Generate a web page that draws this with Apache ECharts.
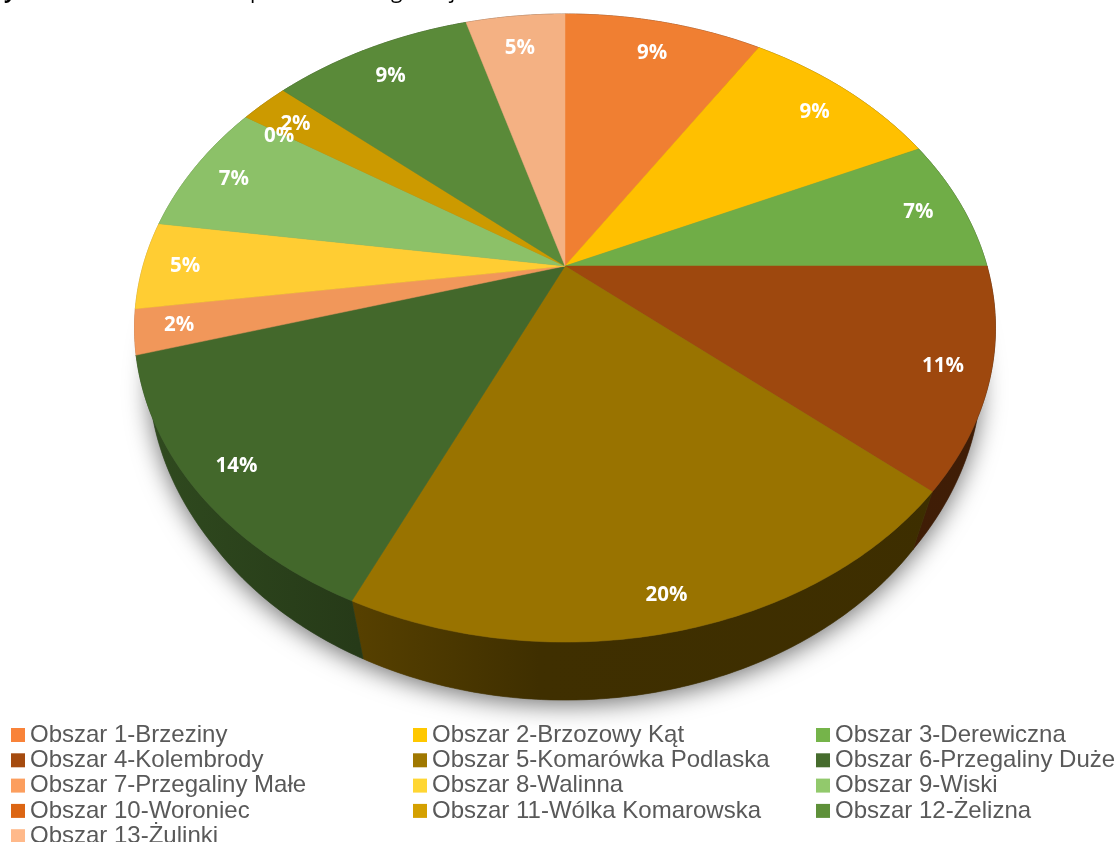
<!DOCTYPE html>
<html><head><meta charset="utf-8">
<style>html,body{margin:0;padding:0;background:#fff}#c{width:1117px;height:842px}</style>
<script src="https://cdn.jsdelivr.net/npm/echarts@6/dist/echarts.min.js"></script>
</head><body><div id="c"></div>
<script>
const categories = ['Obszar 1-Brzeziny','Obszar 2-Brzozowy Kąt','Obszar 3-Derewiczna','Obszar 4-Kolembrody','Obszar 5-Komarówka Podlaska','Obszar 6-Przegaliny Duże','Obszar 7-Przegaliny Małe','Obszar 8-Walinna','Obszar 9-Wiski','Obszar 10-Woroniec','Obszar 11-Wólka Komarowska','Obszar 12-Żelizna','Obszar 13-Żulinki'];
const values = [9.0,9.1,6.9,11.3,20.5,13.7,2.3,4.5,6.9,0,2.2,9.1,4.5];
const labels = ['9%','9%','7%','11%','20%','14%','2%','5%','7%','0%','2%','9%','5%'];
const faceColors = ['#F07F32','#FFC000','#70AD47','#9E480E','#997300','#43682B','#F1975A','#FFCD33','#8CC168','#D26012','#CC9A00','#5A8A39','#F4B183'];
const legendColors = ['#F98339','#FFC800','#75B44A','#A54B0F','#A07800','#466C2D','#FC9E5E','#FFD633','#92C96C','#DC6513','#D4A000','#5E9039','#FFB98A'];

const cx=565, cy=266, A=422, B=301.8, k=0.1975, depth=58;
const total = values.reduce((a,b)=>a+b,0);
const starts = []; values.reduce((s,v,i)=>(starts[i]=s,s+v),0);
function rimTop(t,r){const x=r*Math.sin(t),y=-r*Math.cos(t),d=1-k*y;return [cx+A*x/d,cy+B*y/d];}
function rimLow(t){const p=rimTop(t,1);const u=Math.max(0,Math.min(1,(490-p[1])/150));const s=0.947+0.018*u;return [cx+s*(p[0]-cx),p[1]+depth];}
function ang(v){return v/total*2*Math.PI;}
function arc(fn,a,b){const n=Math.max(2,Math.ceil((b-a)/0.01)),o=[];for(let i=0;i<=n;i++)o.push(fn(a+(b-a)*i/n));return o;}
function shade(hex,f){const n=parseInt(hex.slice(1),16);return 'rgb('+[(n>>16)&255,(n>>8)&255,n&255].map(c=>Math.round(c*f)).join(',')+')';}
function wallFill(hex){return {type:'linear',x:135,y:0,x2:995,y2:0,global:true,colorStops:[
  {offset:0,color:shade(hex,0.72)},{offset:0.26,color:shade(hex,0.56)},{offset:0.47,color:shade(hex,0.41)},{offset:1,color:shade(hex,0.40)}]};}

const seriesList = [];
seriesList.push({type:'custom',name:'walls',coordinateSystem:'none',silent:true,z:1,
  data:values.map((v,i)=>[starts[i],v,i]),
  renderItem(p,api){
    const a=ang(api.value(0)),b=a+ang(api.value(1)),i=api.value(2);
    const pts=arc(t=>rimTop(t,1),a,b).concat(arc(rimLow,a,b).reverse());
    return {type:'polygon',shape:{points:pts},z2:1,style:{fill:wallFill(faceColors[i]),stroke:wallFill(faceColors[i]),lineWidth:api.value(1)>0?0.6:0}};
  }});
seriesList.push({type:'custom',name:'shadow',coordinateSystem:'none',silent:true,z:0,
  data:[[0]],
  renderItem(){
    return {type:'polygon',shape:{points:arc(rimLow,0,2*Math.PI)},
      style:{fill:'#6b6b6b',shadowBlur:24,shadowColor:'rgba(0,0,0,0.55)',shadowOffsetX:0,shadowOffsetY:5}};
  }});
categories.forEach((name,i)=>{
  seriesList.push({type:'custom',name,coordinateSystem:'none',z:2,silent:true,
    itemStyle:{color:legendColors[i]},
    data:[[starts[i],values[i]]],
    renderItem(p,api){
      const a=ang(api.value(0)),b=a+ang(api.value(1));
      return {type:'polygon',shape:{points:[[cx,cy]].concat(arc(t=>rimTop(t,1),a,b))},
        style:{fill:faceColors[i],stroke:faceColors[i],lineWidth:api.value(1)>0?0.5:0}};
    }});
});
seriesList.push({type:'custom',name:'labels',coordinateSystem:'none',z:3,silent:true,
  data:values.map((v,i)=>[starts[i],v,i]),
  renderItem(p,api){
    const m=ang(api.value(0)+api.value(1)/2),c=-Math.cos(m);
    const r=0.885+(c>0?0.033*c*c*c:0.03*c);
    const q=rimTop(m,r);
    return {type:'text',x:cx+(q[0]-cx)*1.015-1,y:q[1]+1,style:{text:labels[api.value(2)],fill:'#fff',font:'bold 20.5px "Open Sans"',align:'center',verticalAlign:'middle'}};
  }});

function legendCol(left,start){
  const data=[];for(let i=start;i<categories.length;i+=3)data.push(categories[i]);
  return {orient:'vertical',left,top:723,height:150,padding:0,itemWidth:14,itemHeight:14,itemGap:1.3,icon:'rect',selectedMode:false,data,
    textStyle:{fontFamily:'"Liberation Sans"',fontSize:24,lineHeight:24,color:'#595959'}};
}
const chart=echarts.init(document.getElementById('c'),null,{renderer:'canvas'});
chart.setOption({animation:false,backgroundColor:'#fff',
  legend:[legendCol(11,0),legendCol(413,1),legendCol(816,2)],
  graphic:[
    {type:'text',left:4,top:-18,style:{text:'y',fill:'#000',font:'bold 21px "Open Sans"'}},
    {type:'text',left:250,top:-18,style:{text:'p',fill:'#000',font:'21px "Open Sans"'}},
    {type:'text',left:391,top:-18,style:{text:'g',fill:'#000',font:'21px "Open Sans"'}},
    {type:'text',left:450,top:-18,style:{text:'j',fill:'#000',font:'21px "Open Sans"'}}
  ],
  series:seriesList});
</script></body></html>
